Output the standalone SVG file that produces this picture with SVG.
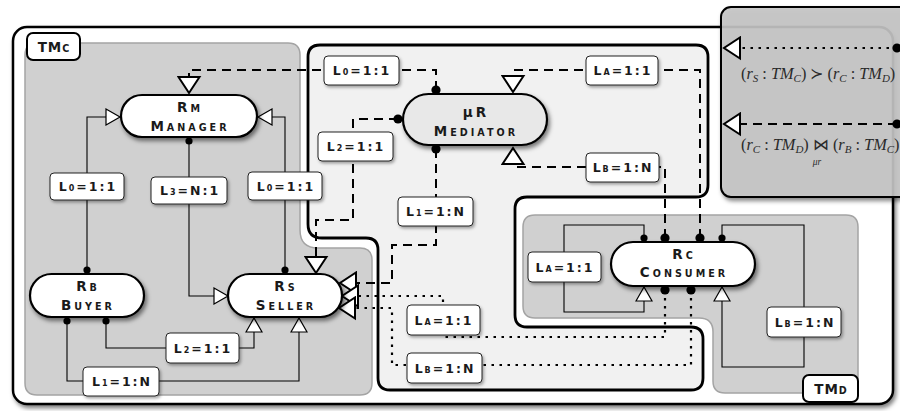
<svg xmlns="http://www.w3.org/2000/svg" width="900" height="411" viewBox="0 0 900 411">
<defs>
<filter id="sh" x="-20%" y="-30%" width="150%" height="170%"><feDropShadow dx="2" dy="3" stdDeviation="2.2" flood-color="#000" flood-opacity="0.5"/></filter>
<filter id="shs" x="-20%" y="-30%" width="150%" height="170%"><feDropShadow dx="1.5" dy="2" stdDeviation="1.5" flood-color="#000" flood-opacity="0.35"/></filter>
<marker id="triS" viewBox="-1 -1 17 18" refX="14" refY="8" markerWidth="17" markerHeight="18" markerUnits="userSpaceOnUse" orient="auto"><path d="M0,0 L14,8 L0,16 Z" fill="#fff" stroke="#000" stroke-width="1.2"/></marker>
<marker id="triB" viewBox="-2 -2 20 25" refX="16" refY="10.5" markerWidth="20" markerHeight="25" markerUnits="userSpaceOnUse" orient="auto"><path d="M0,0 L16,10.5 L0,21 Z" fill="#fff" stroke="#000" stroke-width="2"/></marker>
<marker id="dotS" viewBox="-5 -5 10 10" refX="0" refY="0" markerWidth="10" markerHeight="10" markerUnits="userSpaceOnUse"><circle r="3.6" fill="#000"/></marker>
<marker id="dotL" viewBox="-6 -6 12 12" refX="0" refY="0" markerWidth="12" markerHeight="12" markerUnits="userSpaceOnUse"><circle r="4.6" fill="#000"/></marker>
</defs>
<style>
.nt{font-family:"DejaVu Sans",sans-serif;font-weight:bold;font-size:13.5px;letter-spacing:3px;fill:#1a1a1a;text-anchor:middle}
.sc{font-size:9.6px}
.lb{font-family:"DejaVu Sans",sans-serif;font-weight:bold;font-size:12.5px;letter-spacing:2px;fill:#1a1a1a;text-anchor:middle}
.ls{font-size:8px}
.node{fill:#fff;stroke:#000;stroke-width:2.2}
.lbox{fill:#fff;stroke:#222;stroke-width:1}
.sol{fill:none;stroke:#000;stroke-width:1.1}
.dsh{fill:none;stroke:#000;stroke-width:2;stroke-dasharray:9 6}
.dtt{fill:none;stroke:#000;stroke-width:2.2;stroke-dasharray:2.5 5.5}
.math{font-family:"Liberation Serif","DejaVu Serif",serif;font-size:16.3px;fill:#2a2a2a}
.mi{font-style:italic}
.ms{font-style:italic;font-size:11px}
.region{fill:#d0d0d0;stroke:#a4a4a4;stroke-width:1.5}
.tag{fill:#fff;stroke:#000;stroke-width:2}
</style>

<!-- outer frame -->
<rect x="13" y="27" width="880" height="377" rx="14" fill="#fff" stroke="#000" stroke-width="2.5" filter="url(#sh)"/>

<!-- TMc region -->
<path class="region" d="M37,43 H288 Q300,43 300,55 V230 Q300,248 318,248 H360 Q372,248 372,260 V383 Q372,395 360,395 H37 Q25,395 25,383 V55 Q25,43 37,43 Z"/>

<!-- mediator region -->
<path d="M320,45 H696 Q708,45 708,57 V185 Q708,197 696,197 H527 Q515,197 515,209 V315 Q515,327 527,327 H691 Q703,327 703,339 V378 Q703,390 691,390 H390 Q378,390 378,378 V250 Q378,238 366,238 H322 Q308,238 308,224 V57 Q308,45 320,45 Z" fill="#f1f1f1" stroke="#000" stroke-width="2.8"/>

<!-- TMd region -->
<path class="region" d="M535,215 H846 Q858,215 858,227 V381 Q858,393 846,393 H725 Q713,393 713,381 V332 Q713,318 699,318 H535 Q523,318 523,306 V227 Q523,215 535,215 Z"/>

<!-- region tags -->
<g id="tmc-tag">
<rect class="tag" x="27" y="33" width="53" height="27" rx="6"/>
<text class="nt" x="54" y="52" style="letter-spacing:1px">TM<tspan class="sc">C</tspan></text>
</g>
<g id="tmd-tag">
<rect class="tag" x="803" y="375" width="55" height="27" rx="6"/>
<text class="nt" x="831" y="394" style="letter-spacing:1px">TM<tspan class="sc">D</tspan></text>
</g>

<!-- connectors -->
<g id="connectors">
<path class="sol" d="M87,270 V117 H120" marker-start="url(#dotS)" marker-end="url(#triS)"/>
<path class="sol" d="M285,270 V117 H258" marker-start="url(#dotS)" marker-end="url(#triS)"/>
<path class="sol" d="M189,141 V296 H228" marker-start="url(#dotS)" marker-end="url(#triS)"/>
<path class="sol" d="M106,321 V348 H254 V318" marker-start="url(#dotS)" marker-end="url(#triS)"/>
<path class="sol" d="M67,321 V381 H299 V318" marker-start="url(#dotS)" marker-end="url(#triS)"/>
<path class="sol" d="M644,238 V225 H564 V312 H644 V287" marker-start="url(#dotS)" marker-end="url(#triS)"/>
<path class="sol" d="M722,238 V225 H804 V367 H722 V287" marker-start="url(#dotS)" marker-end="url(#triS)"/>

<path class="dsh" d="M436,90 V70 H189 V93" marker-start="url(#dotL)" marker-end="url(#triB)"/>
<path class="dsh" d="M398,119 H353 V220 H316 V273" marker-start="url(#dotL)" marker-end="url(#triB)"/>
<path class="dsh" d="M436,149 V245 H392 V283 H340" marker-start="url(#dotL)" marker-end="url(#triB)"/>
<path class="dsh" d="M700,238 V70 H513 V92" marker-start="url(#dotL)" marker-end="url(#triB)"/>
<path class="dsh" d="M665,238 V167 H513 V148" marker-start="url(#dotL)" marker-end="url(#triB)"/>

<path class="dtt" d="M665,290 V337 H443 V296 H342" marker-start="url(#dotL)" marker-end="url(#triB)"/>
<path class="dtt" d="M691,290 V365 H392 V308 H339" marker-start="url(#dotL)" marker-end="url(#triB)"/>
</g>

<!-- labels -->
<g id="labels">
<g id="lbl-l0-left"><rect class="lbox" x="50" y="173" width="74" height="27" rx="4" filter="url(#shs)"/><text class="lb" x="88" y="191">L<tspan class="ls">0</tspan>=1:1</text></g>
<g id="lbl-l3"><rect class="lbox" x="151" y="177" width="76" height="27" rx="4" filter="url(#shs)"/><text class="lb" x="190" y="195">L<tspan class="ls">3</tspan>=N:1</text></g>
<g id="lbl-l0-right"><rect class="lbox" x="248" y="172" width="74" height="28" rx="4" filter="url(#shs)"/><text class="lb" x="286" y="191">L<tspan class="ls">0</tspan>=1:1</text></g>
<g id="lbl-l0-top"><rect class="lbox" x="324" y="56" width="75" height="29" rx="4" filter="url(#shs)"/><text class="lb" x="362" y="75">L<tspan class="ls">0</tspan>=1:1</text></g>
<g id="lbl-la-top"><rect class="lbox" x="586" y="56" width="72" height="29" rx="4" filter="url(#shs)"/><text class="lb" x="623" y="75">L<tspan class="ls">A</tspan>=1:1</text></g>
<g id="lbl-l2-mid"><rect class="lbox" x="318" y="132" width="75" height="29" rx="4" filter="url(#shs)"/><text class="lb" x="356" y="151">L<tspan class="ls">2</tspan>=1:1</text></g>
<g id="lbl-lb-mid"><rect class="lbox" x="586" y="153" width="73" height="29" rx="4" filter="url(#shs)"/><text class="lb" x="623" y="172">L<tspan class="ls">B</tspan>=1:N</text></g>
<g id="lbl-l1-mid"><rect class="lbox" x="398" y="197" width="75" height="29" rx="4" filter="url(#shs)"/><text class="lb" x="436" y="216">L<tspan class="ls">1</tspan>=1:N</text></g>
<g id="lbl-la-bot"><rect class="lbox" x="407" y="305" width="73" height="30" rx="4" filter="url(#shs)"/><text class="lb" x="444" y="325">L<tspan class="ls">A</tspan>=1:1</text></g>
<g id="lbl-lb-bot"><rect class="lbox" x="407" y="353" width="75" height="30" rx="4" filter="url(#shs)"/><text class="lb" x="445" y="373">L<tspan class="ls">B</tspan>=1:N</text></g>
<g id="lbl-la-cons"><rect class="lbox" x="528" y="252" width="73" height="30" rx="4" filter="url(#shs)"/><text class="lb" x="565" y="272">L<tspan class="ls">A</tspan>=1:1</text></g>
<g id="lbl-lb-cons"><rect class="lbox" x="767" y="307" width="74" height="30" rx="4" filter="url(#shs)"/><text class="lb" x="805" y="327">L<tspan class="ls">B</tspan>=1:N</text></g>
<g id="lbl-l2-bot"><rect class="lbox" x="166" y="333" width="73" height="30" rx="4" filter="url(#shs)"/><text class="lb" x="203" y="353">L<tspan class="ls">2</tspan>=1:1</text></g>
<g id="lbl-l1-bot"><rect class="lbox" x="83" y="367" width="76" height="29" rx="4" filter="url(#shs)"/><text class="lb" x="122" y="386">L<tspan class="ls">1</tspan>=1:N</text></g>
</g>

<!-- nodes -->
<g id="manager">
<rect class="node" x="121" y="95" width="136" height="42" rx="21" filter="url(#sh)"/>
<text class="nt" x="190" y="112">R<tspan class="sc">M</tspan></text>
<text class="nt" x="190" y="131">M<tspan class="sc">ANAGER</tspan></text>
</g>
<g id="mediator">
<rect class="node" x="403" y="94" width="144" height="51" rx="25.5" style="fill:#e8e8e8" filter="url(#sh)"/>
<text class="nt" x="476" y="117">μR</text>
<text class="nt" x="476" y="136">M<tspan class="sc">EDIATOR</tspan></text>
</g>
<g id="buyer">
<rect class="node" x="30" y="274" width="114" height="43" rx="21.5" filter="url(#sh)"/>
<text class="nt" x="88" y="291">R<tspan class="sc">B</tspan></text>
<text class="nt" x="88" y="310">B<tspan class="sc">UYER</tspan></text>
</g>
<g id="seller">
<rect class="node" x="228" y="274" width="114" height="43" rx="21.5" filter="url(#sh)"/>
<text class="nt" x="286" y="291">R<tspan class="sc">S</tspan></text>
<text class="nt" x="286" y="310">S<tspan class="sc">ELLER</tspan></text>
</g>
<g id="consumer">
<rect class="node" x="611" y="242" width="144" height="44" rx="22" filter="url(#sh)"/>
<text class="nt" x="684" y="259">R<tspan class="sc">C</tspan></text>
<text class="nt" x="684" y="277">C<tspan class="sc">ONSUMER</tspan></text>
</g>

<!-- legend panel -->
<g id="legend">
<rect x="721" y="7" width="200" height="190" rx="10" fill="#c6c6c6" fill-opacity="0.88" stroke="#000" stroke-width="2" filter="url(#sh)"/>
<path class="dtt" d="M897,48 H724" marker-start="url(#dotL)" marker-end="url(#triB)"/>
<path class="dsh" d="M897,124 H724" marker-start="url(#dotL)" marker-end="url(#triB)"/>
<text class="math" x="741" y="79">(<tspan class="mi">r</tspan><tspan class="ms" dy="3">S</tspan><tspan dy="-3"> : </tspan><tspan class="mi">TM</tspan><tspan class="ms" dy="3">C</tspan><tspan dy="-3">) ≻ (</tspan><tspan class="mi">r</tspan><tspan class="ms" dy="3">C</tspan><tspan dy="-3"> : </tspan><tspan class="mi">TM</tspan><tspan class="ms" dy="3">D</tspan><tspan dy="-3">)</tspan></text>
<text class="math" x="741" y="150">(<tspan class="mi">r</tspan><tspan class="ms" dy="3">C</tspan><tspan dy="-3"> : </tspan><tspan class="mi">TM</tspan><tspan class="ms" dy="3">D</tspan><tspan dy="-3">) ⋈ (</tspan><tspan class="mi">r</tspan><tspan class="ms" dy="3">B</tspan><tspan dy="-3"> : </tspan><tspan class="mi">TM</tspan><tspan class="ms" dy="3">C</tspan><tspan dy="-3">)</tspan></text>
<text class="math" x="817" y="165" style="font-size:9.5px;font-style:italic" text-anchor="middle">μr</text>
</g>
</svg>
